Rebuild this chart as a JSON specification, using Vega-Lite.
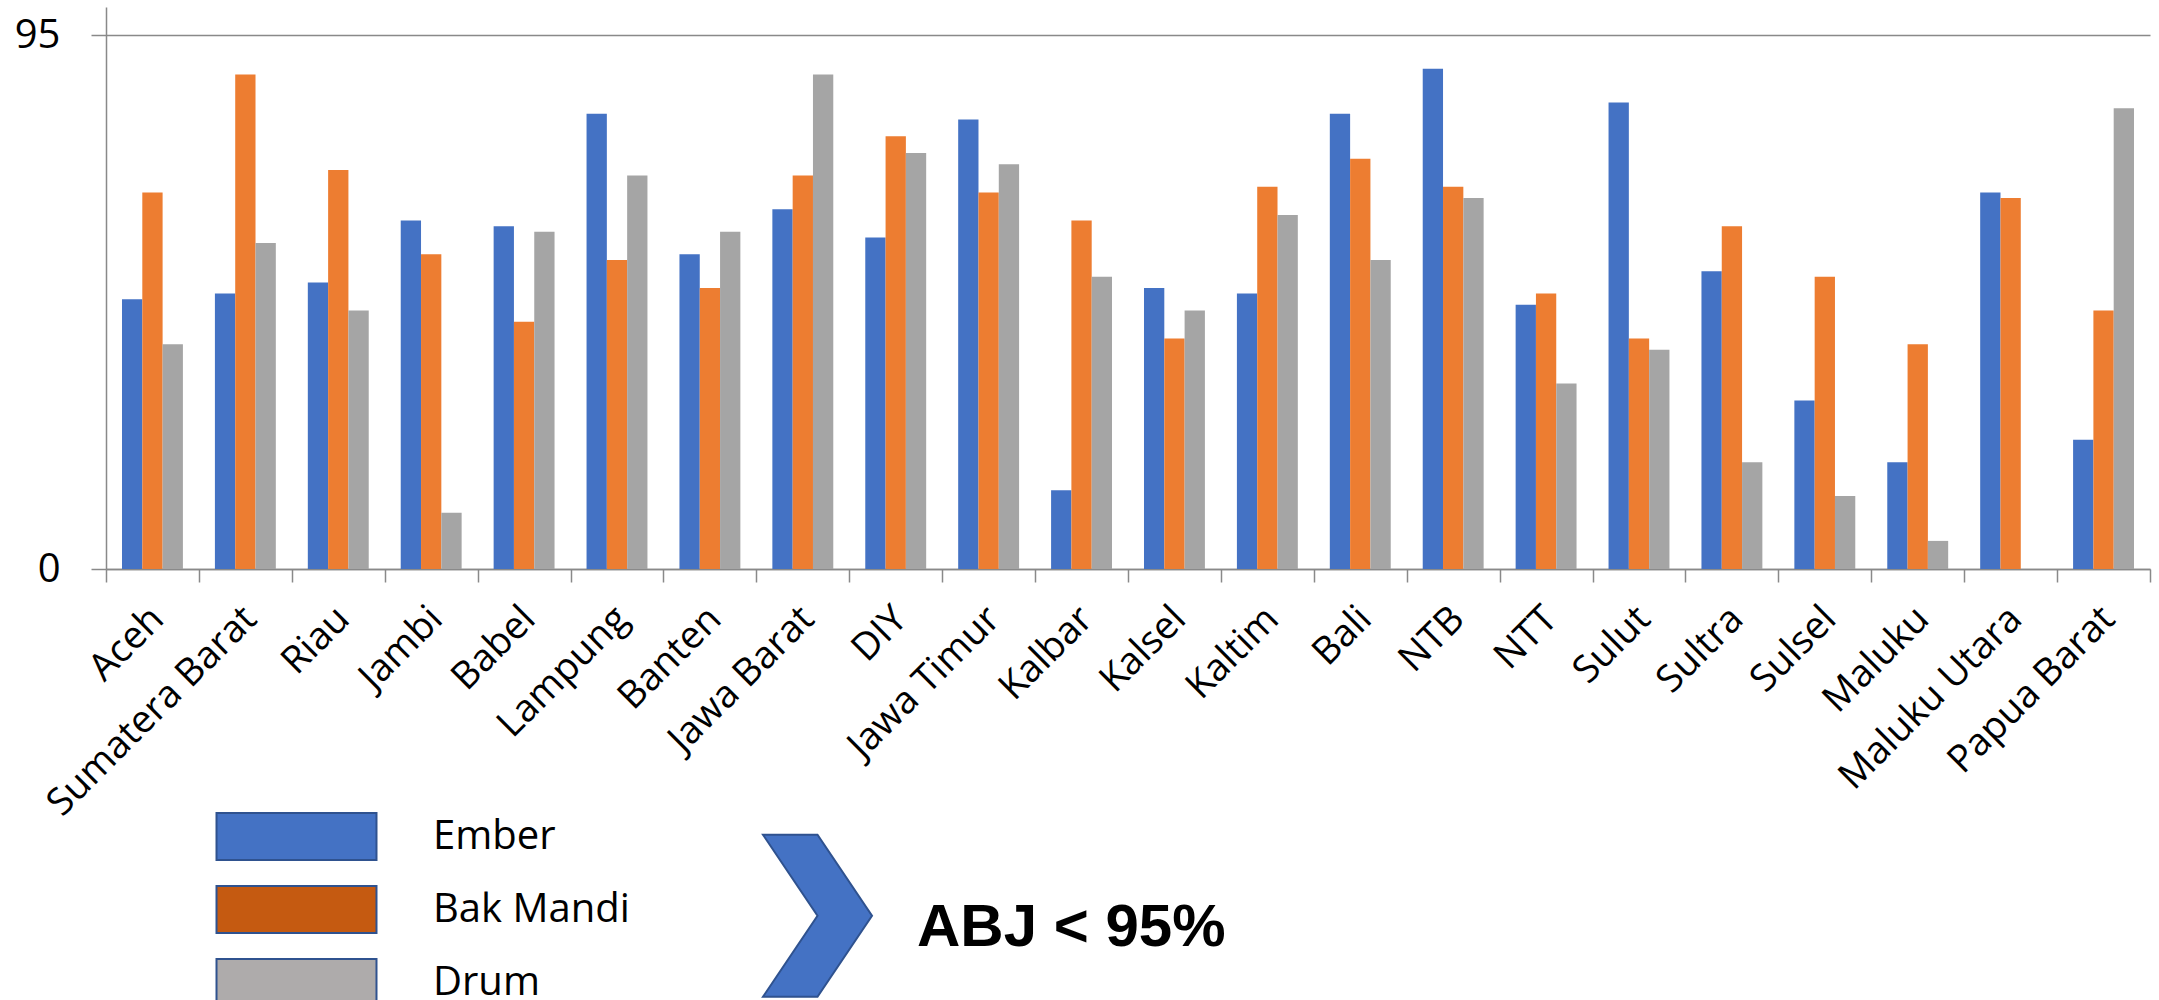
{
  "$schema": "https://vega.github.io/schema/vega-lite/v6.json",
  "width": 2044,
  "height": 562,
  "padding": {"left": 14, "top": 7, "right": 9, "bottom": 0},
  "autosize": {"type": "pad"},
  "config": {
    "view": {"stroke": null},
    "font": "Open Sans"
  },
  "datasets": {
    "coverage": [
      {"provinsi": "Aceh", "wadah": "Ember", "nilai": 48},
      {"provinsi": "Aceh", "wadah": "Bak Mandi", "nilai": 67},
      {"provinsi": "Aceh", "wadah": "Drum", "nilai": 40},
      {"provinsi": "Sumatera Barat", "wadah": "Ember", "nilai": 49},
      {"provinsi": "Sumatera Barat", "wadah": "Bak Mandi", "nilai": 88},
      {"provinsi": "Sumatera Barat", "wadah": "Drum", "nilai": 58},
      {"provinsi": "Riau", "wadah": "Ember", "nilai": 51},
      {"provinsi": "Riau", "wadah": "Bak Mandi", "nilai": 71},
      {"provinsi": "Riau", "wadah": "Drum", "nilai": 46},
      {"provinsi": "Jambi", "wadah": "Ember", "nilai": 62},
      {"provinsi": "Jambi", "wadah": "Bak Mandi", "nilai": 56},
      {"provinsi": "Jambi", "wadah": "Drum", "nilai": 10},
      {"provinsi": "Babel", "wadah": "Ember", "nilai": 61},
      {"provinsi": "Babel", "wadah": "Bak Mandi", "nilai": 44},
      {"provinsi": "Babel", "wadah": "Drum", "nilai": 60},
      {"provinsi": "Lampung", "wadah": "Ember", "nilai": 81},
      {"provinsi": "Lampung", "wadah": "Bak Mandi", "nilai": 55},
      {"provinsi": "Lampung", "wadah": "Drum", "nilai": 70},
      {"provinsi": "Banten", "wadah": "Ember", "nilai": 56},
      {"provinsi": "Banten", "wadah": "Bak Mandi", "nilai": 50},
      {"provinsi": "Banten", "wadah": "Drum", "nilai": 60},
      {"provinsi": "Jawa Barat", "wadah": "Ember", "nilai": 64},
      {"provinsi": "Jawa Barat", "wadah": "Bak Mandi", "nilai": 70},
      {"provinsi": "Jawa Barat", "wadah": "Drum", "nilai": 88},
      {"provinsi": "DIY", "wadah": "Ember", "nilai": 59},
      {"provinsi": "DIY", "wadah": "Bak Mandi", "nilai": 77},
      {"provinsi": "DIY", "wadah": "Drum", "nilai": 74},
      {"provinsi": "Jawa Timur", "wadah": "Ember", "nilai": 80},
      {"provinsi": "Jawa Timur", "wadah": "Bak Mandi", "nilai": 67},
      {"provinsi": "Jawa Timur", "wadah": "Drum", "nilai": 72},
      {"provinsi": "Kalbar", "wadah": "Ember", "nilai": 14},
      {"provinsi": "Kalbar", "wadah": "Bak Mandi", "nilai": 62},
      {"provinsi": "Kalbar", "wadah": "Drum", "nilai": 52},
      {"provinsi": "Kalsel", "wadah": "Ember", "nilai": 50},
      {"provinsi": "Kalsel", "wadah": "Bak Mandi", "nilai": 41},
      {"provinsi": "Kalsel", "wadah": "Drum", "nilai": 46},
      {"provinsi": "Kaltim", "wadah": "Ember", "nilai": 49},
      {"provinsi": "Kaltim", "wadah": "Bak Mandi", "nilai": 68},
      {"provinsi": "Kaltim", "wadah": "Drum", "nilai": 63},
      {"provinsi": "Bali", "wadah": "Ember", "nilai": 81},
      {"provinsi": "Bali", "wadah": "Bak Mandi", "nilai": 73},
      {"provinsi": "Bali", "wadah": "Drum", "nilai": 55},
      {"provinsi": "NTB", "wadah": "Ember", "nilai": 89},
      {"provinsi": "NTB", "wadah": "Bak Mandi", "nilai": 68},
      {"provinsi": "NTB", "wadah": "Drum", "nilai": 66},
      {"provinsi": "NTT", "wadah": "Ember", "nilai": 47},
      {"provinsi": "NTT", "wadah": "Bak Mandi", "nilai": 49},
      {"provinsi": "NTT", "wadah": "Drum", "nilai": 33},
      {"provinsi": "Sulut", "wadah": "Ember", "nilai": 83},
      {"provinsi": "Sulut", "wadah": "Bak Mandi", "nilai": 41},
      {"provinsi": "Sulut", "wadah": "Drum", "nilai": 39},
      {"provinsi": "Sultra", "wadah": "Ember", "nilai": 53},
      {"provinsi": "Sultra", "wadah": "Bak Mandi", "nilai": 61},
      {"provinsi": "Sultra", "wadah": "Drum", "nilai": 19},
      {"provinsi": "Sulsel", "wadah": "Ember", "nilai": 30},
      {"provinsi": "Sulsel", "wadah": "Bak Mandi", "nilai": 52},
      {"provinsi": "Sulsel", "wadah": "Drum", "nilai": 13},
      {"provinsi": "Maluku", "wadah": "Ember", "nilai": 19},
      {"provinsi": "Maluku", "wadah": "Bak Mandi", "nilai": 40},
      {"provinsi": "Maluku", "wadah": "Drum", "nilai": 5},
      {"provinsi": "Maluku Utara", "wadah": "Ember", "nilai": 67},
      {"provinsi": "Maluku Utara", "wadah": "Bak Mandi", "nilai": 66},
      {"provinsi": "Papua Barat", "wadah": "Ember", "nilai": 23},
      {"provinsi": "Papua Barat", "wadah": "Bak Mandi", "nilai": 46},
      {"provinsi": "Papua Barat", "wadah": "Drum", "nilai": 82}
    ],
    "note": [{"label": "ABJ < 95%"}]
  },
  "layer": [
    {
      "data": {"name": "coverage"},
      "mark": {"type": "bar"},
      "encoding": {
        "x": {
          "field": "provinsi",
          "type": "nominal",
          "sort": null,
          "title": null,
          "scale": {"paddingInner": 0, "paddingOuter": 0},
          "axis": {
            "labelAngle": -45,
            "labelAlign": "right",
            "labelBaseline": "middle",
            "labelFontSize": 38,
            "labelColor": "black",
            "labelPadding": 31,
            "labelOffset": 5,
            "labelLimit": 0,
            "labelOverlap": false,
            "tickBand": "extent",
            "tickSize": 13,
            "tickColor": "#898989",
            "tickWidth": 1.5,
            "domainColor": "#898989",
            "domainWidth": 1.5
          }
        },
        "xOffset": {
          "field": "wadah",
          "type": "nominal",
          "sort": ["Ember", "Bak Mandi", "Drum"],
          "scale": {"paddingInner": 0, "paddingOuter": 0.788}
        },
        "y": {
          "field": "nilai",
          "type": "quantitative",
          "title": null,
          "scale": {"domain": [0, 100], "nice": false},
          "axis": {
            "values": [0, 95],
            "grid": true,
            "gridColor": "#898989",
            "gridWidth": 1.5,
            "domainColor": "#898989",
            "domainWidth": 1.5,
            "tickColor": "#898989",
            "tickWidth": 1.5,
            "tickSize": 15,
            "labelFontSize": 40,
            "labelColor": "black",
            "labelPadding": 31
          }
        },
        "color": {
          "field": "wadah",
          "type": "nominal",
          "sort": ["Ember", "Bak Mandi", "Drum"],
          "scale": {"range": ["#4472C4", "#ED7D31", "#A5A5A5"]},
          "legend": null
        }
      }
    },
    {
      "data": {"name": "coverage"},
      "mark": {"type": "bar", "opacity": 0},
      "encoding": {
        "fill": {
          "field": "wadah",
          "type": "nominal",
          "sort": ["Ember", "Bak Mandi", "Drum"],
          "scale": {
            "domain": ["Ember", "Bak Mandi", "Drum"],
            "range": ["#4472C4", "#C55A11", "#AEABAB"]
          },
          "legend": {
            "orient": "none",
            "legendX": 166,
            "legendY": 805,
            "title": null,
            "direction": "vertical",
            "padding": 0,
            "symbolType": "M-3.404,-1H3.404V1H-3.404Z",
            "symbolSize": 2209,
            "symbolStrokeWidth": 2,
            "symbolStrokeColor": "#2F528F",
            "symbolOpacity": 1,
            "labelFontSize": 40,
            "labelColor": "black",
            "labelOffset": 112,
            "labelLimit": 0,
            "rowPadding": 18
          }
        }
      }
    },
    {
      "data": {"name": "note"},
      "mark": {
        "type": "point",
        "shape": "M-0.673,-1L0,-1L0.673,0L0,1L-0.673,1L0,0Z",
        "size": 26244,
        "filled": true,
        "fill": "#4472C4",
        "stroke": "#2F528F",
        "strokeWidth": 2,
        "opacity": 1
      },
      "encoding": {
        "x": {"datum": 7.658, "type": "quantitative", "scale": {"domain": [0, 22]}, "axis": null},
        "y": {"datum": -61.7, "type": "quantitative"}
      }
    },
    {
      "data": {"name": "note"},
      "mark": {
        "type": "text",
        "align": "left",
        "baseline": "alphabetic",
        "font": "Liberation Sans",
        "fontWeight": "bold",
        "fontSize": 60,
        "color": "black"
      },
      "encoding": {
        "x": {"datum": 8.729, "type": "quantitative", "scale": {"domain": [0, 22]}, "axis": null},
        "y": {"datum": -67.1, "type": "quantitative"},
        "text": {"field": "label"}
      }
    }
  ],
  "resolve": {"scale": {"x": "independent"}}
}
